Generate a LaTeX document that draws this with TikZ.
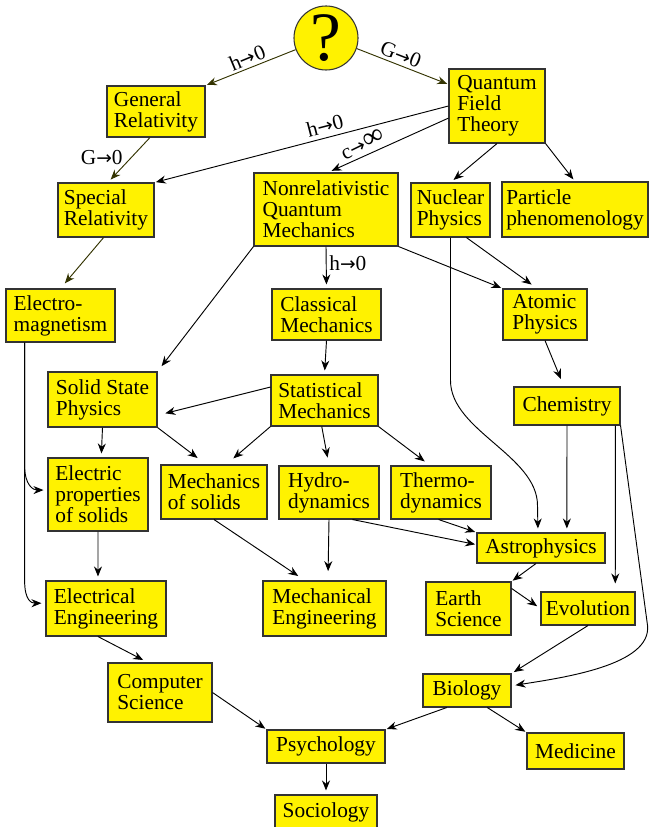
\documentclass[tikz,border=0pt]{standalone}
\usepackage{fontspec}
\setmainfont{Liberation Serif}
\newfontfamily\arrowfont{DejaVu Sans}
\usetikzlibrary{arrows.meta}

\newcommand{\tto}{{\arrowfont\fontsize{14}{14}\selectfont →}}
\newcommand{\infy}{{\fontsize{22}{22}\selectfont ∞}}

\definecolor{olive}{RGB}{51,51,0}

\tikzset{
  box/.style={draw=black!80, line width=0.8pt, fill=yellow, align=left, inner sep=0pt, font=\fontsize{16}{15.8}\selectfont},
  bx/.style 2 args={minimum width=#1*0.75pt, minimum height=#2*0.75pt},
  arr/.style={-{Stealth[length=7.5pt,width=6pt]}, line width=0.7pt, shorten >=3pt},
  lbl/.style={font=\fontsize{16}{16}\selectfont, inner sep=2pt},
}

\begin{document}
\begin{tikzpicture}[x=0.75pt,y=0.75pt,yscale=-1,xscale=1]
\useasboundingbox (0,0) rectangle (649,827);

% Top
\node[draw=black!80, line width=0.8pt, circle, fill=yellow, minimum size=64*0.75pt, inner sep=0pt, font=\fontsize{52}{52}\selectfont] (q) at (326,38) {?};
\node[box, bx={98}{51}] (gr) at (156,111.5) {General\\Relativity};
\node[box, bx={96}{74}] (qft) at (497,106) {Quantum\\Field\\Theory};
\node[box, bx={96}{54}] (sr) at (106,210) {Special\\Relativity};
\node[box, bx={144}{73}] (nqm) at (326,209.5) {Nonrelativistic\\Quantum\\Mechanics};
\node[box, bx={79}{54}] (nuc) at (450.5,210) {Nuclear\\Physics};
\node[box, bx={146}{55}] (part) at (575,209.5) {Particle\\phenomenology};

% Middle
\node[box, bx={109}{53}] (em) at (60.5,315.5) {Electro-\\magnetism};
\node[box, bx={109}{51}] (cm) at (326.5,314.5) {Classical\\Mechanics};
\node[box, bx={84}{51}] (at) at (545,314.5) {Atomic\\Physics};
\node[box, bx={109}{55}] (ssp) at (102.5,399.5) {Solid State\\Physics};
\node[box, bx={107}{51}] (stm) at (324.5,400.5) {Statistical\\Mechanics};
\node[box, bx={106}{38}] (ch) at (567,406) {Chemistry};
\node[box, bx={100}{73}] (ep) at (98,494.5) {Electric\\properties\\of solids};
\node[box, bx={106}{54}] (ms) at (214,492) {Mechanics\\of solids};
\node[box, bx={100}{53}] (hd) at (329,492.5) {Hydro-\\dynamics};
\node[box, bx={100}{53}] (td) at (441,492.5) {Thermo-\\dynamics};
\node[box, bx={128}{30}] (ap) at (541,548) {Astrophysics};

% Bottom
\node[box, bx={120}{55}] (ee) at (106,608.5) {Electrical\\Engineering};
\node[box, bx={123}{55}] (me) at (324.5,608.5) {Mechanical\\Engineering};
\node[box, bx={85}{53}] (es) at (468.5,608.5) {Earth\\Science};
\node[box, bx={94}{33}] (ev) at (588,608.5) {Evolution};
\node[box, bx={104}{59}] (cs) at (160,692.5) {Computer\\Science};
\node[box, bx={88}{33}] (bio) at (467,690.5) {Biology};
\node[box, bx={118}{33}] (psy) at (326,746.5) {Psychology};
\node[box, bx={97}{36}] (med) at (575.5,751) {Medicine};
\node[box, bx={102}{34}] (soc) at (326,812) {Sociology};

% Arrows
\draw[arr, olive, shorten >=1pt] (q.201) -- node[lbl, black, pos=0.49, anchor=south, rotate=22.6] {h\tto0} (gr.north east);
\draw[arr, olive, shorten >=1pt] (q.-19) -- node[lbl, black, pos=0.44, anchor=south, rotate=-21.3] {G\tto0} (qft.156);
\draw[arr, olive] (gr.257) -- node[lbl, black, left, pos=0.45, xshift=-4pt] {G\tto0} (sr.86);
\draw[arr, shorten >=1pt] (qft.west) -- node[lbl, pos=0.41, anchor=south, rotate=14.6, yshift=1pt] {h\tto0} (sr.north east);
\draw[arr] (qft.194) -- node[lbl, pos=0.67, anchor=south, rotate=26, yshift=1pt] {c\tto\infy} (nqm.87);
\draw[arr] (qft.south) -- (nuc.north);
\draw[arr, shorten >=2pt] (qft.south east) -- (part.north);
\draw[arr, olive, shorten >=5pt] (sr.265) -- (em.north);
\draw[arr] (nqm.south) -- node[lbl, right, pos=0.4] {h\tto0} (cm.north);
\draw[arr, shorten >=5pt] (nqm.south west) -- (ssp.north east);
\draw[arr, shorten >=1pt] (nqm.south east) -- (at.north west);
\draw[arr, shorten >=5pt] (nuc.-60) -- (at.107);
\draw[arr] (nuc.south) -- ++(0,143) .. controls +(0,50) and +(0,-50) .. ++(87,125) -- (ap.101);
\draw[arr] (cm.south) -- (stm.north);
\draw[arr, shorten >=6pt] (stm.166) -- (ssp.-16);
\draw[arr, shorten >=7pt] (stm.south west) -- (ms.66);
\draw[arr, shorten >=6pt] (stm.264) -- (hd.north);
\draw[arr, shorten >=5pt] (stm.south east) -- (td.112);
\draw[arr] (ssp.south) -- (ep.85);
\draw[arr, shorten >=8pt] (ssp.south east) -- (ms.106);
\draw[arr] (em.217) -- ++(0,123) .. controls +(0,20) and +(-14,0) .. (ep.175);
\draw[arr] (em.217) -- ++(0,238) .. controls +(0,20) and +(-14,0) .. (ee.175);
\draw[arr] (ep.south) -- (ee.106);
\draw[arr, shorten >=6pt] (ms.south) -- (me.125);
\draw[arr, shorten >=7pt] (hd.south) -- (me.83);
\draw[arr, shorten >=1pt] (hd.-49) -- (ap.177);
\draw[arr, shorten >=1pt] (td.265) -- (ap.north west);
\draw[arr, shorten >=6pt] (at.south) -- (ch.99);
\draw[arr] (ch.south) -- (ap.31);
\draw[arr, shorten >=6pt] (ch.-22) -- (ev.32);
\draw[arr] (ch.south east) -- ++(27,200) .. controls +(4,40) and +(50,-8) .. (bio.6);
\draw[arr, shorten >=1pt] (ap.252) -- (es.north east);
\draw[arr] (es.25) -- (ev.west);
\draw[arr, shorten >=2pt] (ev.south) -- (bio.north east);
\draw[arr, shorten >=4pt] (ee.254) -- (cs.112);
\draw[arr, shorten >=1pt] (cs.east) -- (psy.north west);
\draw[arr, shorten >=1pt] (bio.220) -- (psy.north east);
\draw[arr, shorten >=1pt] (bio.-40) -- (med.north west);
\draw[arr] (psy.south) -- (soc.north);

\end{tikzpicture}
\end{document}
